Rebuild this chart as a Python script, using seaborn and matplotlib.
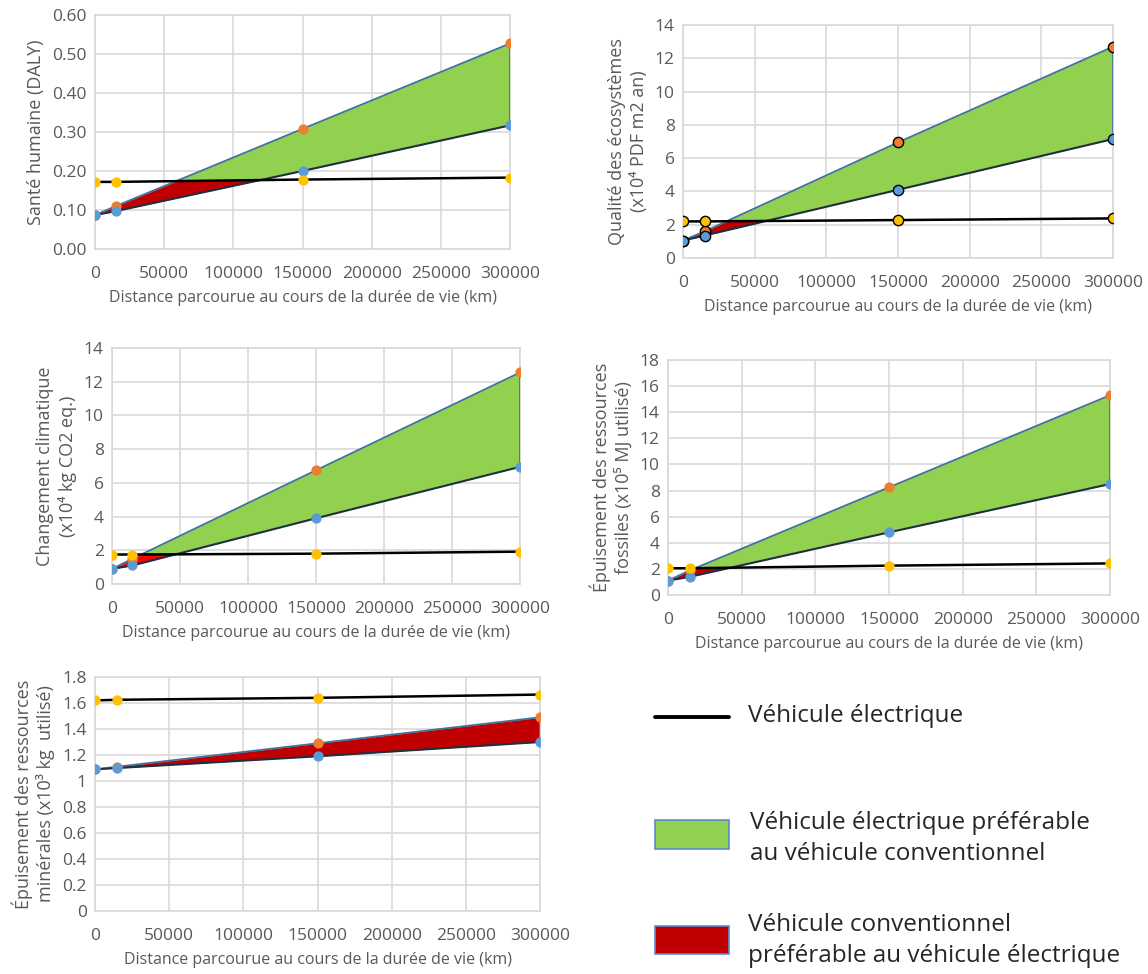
import matplotlib
matplotlib.use("Agg")
import matplotlib.pyplot as plt
import matplotlib.ticker as mticker
from matplotlib.lines import Line2D
from matplotlib.patches import Rectangle
import numpy as np
import pandas as pd
import seaborn as sns

sns.set_style("whitegrid")
plt.rcParams["font.family"] = ["Open Sans", "DejaVu Sans"]

km = [0, 15000, 150000, 300000]

# one list per panel: conventional (high), conventional (low), electric
sante_conv_high = [0.087, 0.110, 0.308, 0.527]
sante_conv_low = [0.087, 0.097, 0.200, 0.317]
sante_elec = [0.172, 0.172, 0.178, 0.183]

ecosys_conv_high = [1.05, 1.60, 6.95, 12.70]
ecosys_conv_low = [1.05, 1.35, 4.10, 7.15]
ecosys_elec = [2.20, 2.20, 2.28, 2.38]

climat_conv_high = [0.90, 1.50, 6.75, 12.55]
climat_conv_low = [0.90, 1.10, 3.90, 6.95]
climat_elec = [1.75, 1.75, 1.80, 1.92]

fossile_conv_high = [1.10, 1.90, 8.25, 15.30]
fossile_conv_low = [1.10, 1.40, 4.80, 8.50]
fossile_elec = [2.05, 2.05, 2.25, 2.42]

mineral_conv_high = [1.09, 1.11, 1.29, 1.49]
mineral_conv_low = [1.09, 1.10, 1.19, 1.30]
mineral_elec = [1.62, 1.625, 1.64, 1.665]

ylabels = [
    "Santé humaine (DALY)",
    "Qualité des écosystèmes\n(x10⁴ PDF m2 an)",
    "Changement climatique\n(x10⁴ kg CO2 eq.)",
    "Épuisement des ressources\nfossiles (x10⁵ MJ utilisé)",
    "Épuisement des ressources\nminérales (x10³ kg  utilisé)",
]
ymax = [0.60, 14, 14, 18, 1.8]
ystep = [0.10, 2, 2, 2, 0.2]
xlabel = "Distance parcourue au cours de la durée de vie (km)"

panels = [
    (sante_conv_high, sante_conv_low, sante_elec),
    (ecosys_conv_high, ecosys_conv_low, ecosys_elec),
    (climat_conv_high, climat_conv_low, climat_elec),
    (fossile_conv_high, fossile_conv_low, fossile_elec),
    (mineral_conv_high, mineral_conv_low, mineral_elec),
]

# axes rectangles in figure fraction
rects = [
    (0.0828, 0.7444, 0.3615, 0.2402),
    (0.5950, 0.7351, 0.3746, 0.2392),
    (0.0976, 0.4004, 0.3554, 0.2423),
    (0.5819, 0.3891, 0.3850, 0.2413),
    (0.0828, 0.0647, 0.3876, 0.2402),
]
marker_edge = [None, "black", None, None, None]
red_fill = ["#C00000", "#C00000", "#FF0000", "#C00000", "#C00000"]

ORANGE, BLUE, YELLOW = "#ED7D31", "#5B9BD5", "#FFC000"
GREEN = "#92D050"
EDGE = "#41719C"
GRID = "#D9D9D9"
TXT = "#595959"

fig = plt.figure(figsize=(11.48, 9.74), dpi=100)

for i, (high, low, elec) in enumerate(panels):
    ax = fig.add_axes(rects[i])
    df = pd.DataFrame({"km": km, "high": high, "low": low, "elec": elec})

    # shaded areas between the two conventional curves, split by the electric line
    xs = np.linspace(0, 300000, 1201)
    o = np.interp(xs, km, high)
    b = np.interp(xs, km, low)
    e = np.interp(xs, km, elec)
    g_lo = np.maximum(b, e)
    ax.fill_between(xs, g_lo, o, where=o > g_lo, color=GREEN, lw=0, zorder=2)
    r_hi = np.minimum(o, e)
    ax.fill_between(xs, b, r_hi, where=r_hi > b, color=red_fill[i], lw=0, zorder=2)
    sns.lineplot(data=df, x="km", y="high", color=EDGE, lw=1.3, ax=ax, zorder=3)
    sns.lineplot(data=df, x="km", y="low", color="#1F2F40", lw=1.5, ax=ax, zorder=3)
    ax.plot([km[-1], km[-1]], [low[-1], high[-1]], color=EDGE, lw=1.3, zorder=3)

    mec = marker_edge[i]
    kw = dict(s=55, ax=ax, zorder=4, legend=False)
    if mec:
        kw.update(edgecolor=mec, linewidth=1)
    else:
        kw.update(linewidth=0)
    sns.scatterplot(data=df, x="km", y="high", color=ORANGE, **kw)
    sns.scatterplot(data=df, x="km", y="low", color=BLUE, **kw)
    sns.lineplot(data=df, x="km", y="elec", color="black", lw=1.8, ax=ax, zorder=5)
    sns.scatterplot(data=df, x="km", y="elec", color=YELLOW, **dict(kw, zorder=6))

    ax.set_xlim(0, 300000)
    ax.set_ylim(0, ymax[i])
    ax.xaxis.set_major_locator(mticker.MultipleLocator(50000))
    ax.yaxis.set_major_locator(mticker.MultipleLocator(ystep[i]))
    ax.xaxis.set_major_formatter(mticker.FuncFormatter(lambda v, p: f"{v:.0f}"))
    if i == 0:
        ax.yaxis.set_major_formatter(mticker.FuncFormatter(lambda v, p: f"{v:.2f}"))
    else:
        ax.yaxis.set_major_formatter(mticker.FuncFormatter(lambda v, p: f"{round(v, 2):g}"))
    ax.grid(True, color=GRID, lw=1.2)
    for s in ax.spines.values():
        s.set_color(GRID)
        s.set_linewidth(1.2)
    ax.tick_params(axis="both", colors=TXT, labelsize=12.5, length=0, pad=6)
    ax.tick_params(axis="x", pad=12)
    ax.set_xlabel(xlabel, color=TXT, fontsize=11.5, labelpad=6)
    ax.set_ylabel(ylabels[i], color=TXT, fontsize=13, labelpad=5, linespacing=1.25)
    ax.set_clip_on(False)

# legend block in the lower right
LEG = 17.5
fig.add_artist(Line2D([0.5706, 0.6350], [0.2638, 0.2638], color="black", lw=2.8))
fig.text(0.6520, 0.2649, "Véhicule électrique", fontsize=LEG, va="center", ha="left")
fig.add_artist(Rectangle((0.5706, 0.1283), 0.0644, 0.0298, facecolor=GREEN,
                         edgecolor="#5B8BD0", lw=1.2))
fig.text(0.6530, 0.1391, "Véhicule électrique préférable\nau véhicule conventionnel",
         fontsize=LEG, va="center", ha="left", linespacing=1.35)
fig.add_artist(Rectangle((0.5706, 0.0205), 0.0644, 0.0287, facecolor="#C00000",
                         edgecolor="#5B8BD0", lw=1.2))
fig.text(0.6520, 0.0344, "Véhicule conventionnel\npréférable au véhicule électrique",
         fontsize=LEG, va="center", ha="left", linespacing=1.35)

fig.savefig("out.png", dpi=100)
